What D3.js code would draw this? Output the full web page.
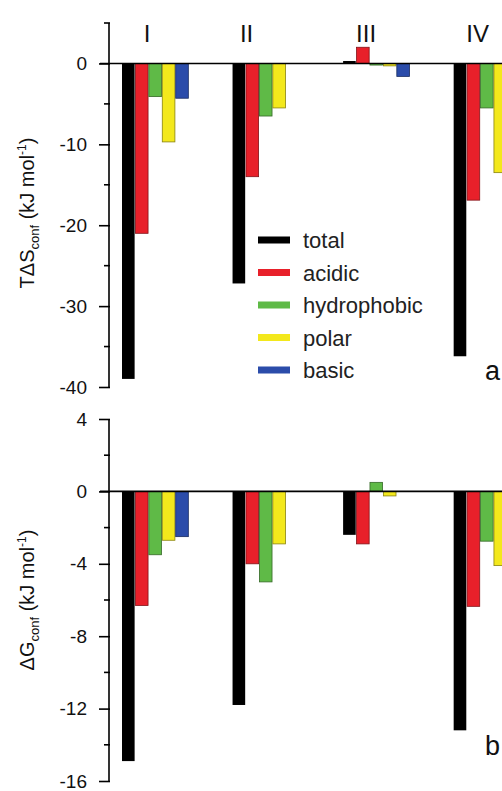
<!DOCTYPE html>
<html>
<head>
<meta charset="utf-8">
<script src="https://d3js.org/d3.v7.min.js"></script>
<style>
  body { margin: 0; background: #fff; }
  svg { display: block; font-family: "Liberation Sans", Arial, sans-serif; }
</style>
</head>
<body>
<svg width="502" height="791"></svg>
<script>
// groups and series
var groups = ["I", "II", "III", "IV"];
var series = ["total", "acidic", "hydrophobic", "polar", "basic"];
var colors = ["#000000", "#e8202a", "#5fba47", "#f3e81c", "#2b4caa"];

// panel a: T dS_conf (kJ/mol), one array per series, in group order
var entTotal  = [-39.0, -27.2, 0.3, -36.2];
var entAcidic = [-21.0, -14.0, 2.0, -16.9];
var entHydro  = [-4.1, -6.5, -0.2, -5.5];
var entPolar  = [-9.7, -5.5, -0.3, -13.5];
var entBasic  = [-4.3, 0, -1.6, -4.0];

// panel b: dG_conf (kJ/mol)
var gTotal  = [-14.9, -11.8, -2.4, -13.2];
var gAcidic = [-6.3, -4.0, -2.9, -6.35];
var gHydro  = [-3.5, -5.0, 0.5, -2.75];
var gPolar  = [-2.7, -2.9, -0.25, -4.1];
var gBasic  = [-2.5, 0, 0, -2.5];

var ticksA = [0, -10, -20, -30, -40];
var minorA = [5, -5, -15, -25, -35];
var ticksB = [4, 0, -4, -8, -12, -16];
var minorB = [2, -2, -6, -10, -14];

var svg = d3.select("svg");
var axisX = 110;

var x0 = d3.scaleBand().domain(groups).range([122, 520]).paddingInner(0.4).paddingOuter(0);
var x1 = d3.scaleBand().domain(series).range([0, x0.bandwidth()]).paddingInner(0.06);
var color = d3.scaleOrdinal().domain(series).range(colors);

function panel(cfg) {
  var y = d3.scaleLinear().domain(cfg.domain).range(cfg.range);
  var g = svg.append("g");

  var rows = [];
  cfg.values.forEach(function(arr, si) {
    arr.forEach(function(v, gi) {
      rows.push({ g: groups[gi], s: series[si], v: v });
    });
  });

  g.selectAll("rect.bar")
    .data(rows)
    .enter().append("rect")
    .attr("class", "bar")
    .attr("x", function(d) { return x0(d.g) + x1(d.s); })
    .attr("width", x1.bandwidth())
    .attr("y", function(d) { return y(Math.max(0, d.v)); })
    .attr("height", function(d) { return Math.abs(y(d.v) - y(0)); })
    .attr("fill", function(d) { return color(d.s); })
    .attr("stroke", function(d) { return d.s === "total" ? "none" : d3.color(color(d.s)).darker(1.6); })
    .attr("stroke-width", 0.8);

  // zero line
  g.append("line")
    .attr("x1", axisX - 10).attr("x2", 502)
    .attr("y1", y(0)).attr("y2", y(0))
    .attr("stroke", "#000").attr("stroke-width", 1.6);

  // y axis
  var axis = d3.axisLeft(y).tickValues(cfg.ticks).tickSize(11).tickPadding(12)
    .tickFormat(d3.format("d"));
  var ag = g.append("g").attr("transform", "translate(" + axisX + ",0)").call(axis);
  ag.select(".domain").attr("stroke-width", 1.6).attr("d", "M-1," + y(cfg.domain[1]) + "V" + y(cfg.domain[0]));
  ag.selectAll(".tick line").attr("stroke-width", 1.6);
  ag.selectAll(".tick text").attr("font-size", 19).attr("fill", "#111")
    .attr("font-family", "Liberation Sans, Arial, sans-serif")
    .text(function(d) { return d === 0 ? "0" : d3.format("d")(d).replace("−", "-"); });
  ag.selectAll(".minor")
    .data(cfg.minor).enter().append("line")
    .attr("x1", -6).attr("x2", 0)
    .attr("y1", function(d) { return y(d); }).attr("y2", function(d) { return y(d); })
    .attr("stroke", "#000").attr("stroke-width", 1.6);

  // y label
  var lab = g.append("text")
    .attr("transform", "translate(" + cfg.labelX + "," + cfg.labelY + ") rotate(-90)")
    .attr("text-anchor", "middle")
    .attr("font-size", 20).attr("fill", "#111");
  lab.append("tspan").text(cfg.label);
  lab.append("tspan").attr("font-size", 13).attr("dy", 5).text("conf");
  lab.append("tspan").attr("dy", -5).text(" (kJ mol");
  lab.append("tspan").attr("font-size", 12).attr("dy", -8).text("-1");
  lab.append("tspan").attr("dy", 8).text(")");

  // panel letter
  g.append("text").attr("x", 485).attr("y", cfg.letterY)
    .attr("font-size", 27).attr("fill", "#111").text(cfg.letter);
  return y;
}

panel({
  domain: [-40, 5], range: [387, 23],
  values: [entTotal, entAcidic, entHydro, entPolar, entBasic],
  ticks: ticksA, minor: minorA,
  label: "TΔS", labelX: 34, labelY: 213,
  letter: "a", letterY: 380
});

panel({
  domain: [-16, 4], range: [781, 419],
  values: [gTotal, gAcidic, gHydro, gPolar, gBasic],
  ticks: ticksB, minor: minorB,
  label: "ΔG", labelX: 34, labelY: 600,
  letter: "b", letterY: 755
});

// group labels
var labelShift = [25, 14, 23, 24];
svg.selectAll("text.grp")
  .data(groups).enter().append("text")
  .attr("class", "grp")
  .attr("x", function(d, i) { return x0(d) + labelShift[i]; })
  .attr("y", 42)
  .attr("text-anchor", "middle")
  .attr("font-size", 24).attr("fill", "#111")
  .text(function(d) { return d; });

// legend
var leg = svg.append("g").attr("transform", "translate(258,240)");
var item = leg.selectAll("g").data(series).enter().append("g")
  .attr("transform", function(d, i) { return "translate(0," + (i * 32.5) + ")"; });
item.append("rect").attr("x", 0).attr("y", -3.5).attr("width", 32).attr("height", 7)
  .attr("fill", function(d) { return color(d); });
item.append("text").attr("x", 45).attr("y", 8)
  .attr("font-size", 22).attr("fill", "#222")
  .text(function(d) { return d; });
</script>
</body>
</html>
